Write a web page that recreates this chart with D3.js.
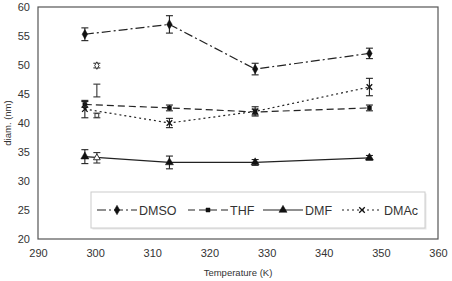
<!DOCTYPE html>
<html>
<head>
<meta charset="utf-8">
<script src="https://cdn.jsdelivr.net/npm/d3@7"></script>
<style>
  body { margin: 0; background: #fff; }
  text { font-family: "Liberation Sans", Arial, sans-serif; fill: #333; }
</style>
</head>
<body>
<svg id="chart" width="452" height="281"></svg>
<script>
// temperatures (K) for the main series
const temps = [298.2, 313, 328, 348];
const dmso = [55.3, 57.0, 49.3, 52.0];
const dmsoErr = [1.1, 1.5, 1.0, 0.9];
const thf = [43.2, 42.6, 41.9, 42.6];
const thfErr = [0.5, 0.5, 0.5, 0.5];
const dmf = [34.2, 33.2, 33.2, 34.0];
const dmfErr = [1.2, 1.1, 0.5, 0.4];
const dmac = [42.4, 40.0, 42.0, 46.2];
const dmacErr = [1.5, 0.8, 0.8, 1.5];

// extra open markers at 300 K
const extraT = 300.3;
const extraVals = [49.9, 45.6, 41.3, 34.0];
const extraErr = [0.4, 1.1, 0.4, 0.9];
const extraShapes = ["diamond", "none", "square", "triangle"];

const xTicks = [290, 300, 310, 320, 330, 340, 350, 360];
const yTicks = [20, 25, 30, 35, 40, 45, 50, 55, 60];

const svg = d3.select("#chart");
const margin = { top: 7, right: 14, bottom: 42, left: 38 };
const width = 452 - margin.left - margin.right;
const height = 281 - margin.top - margin.bottom;
const g = svg.append("g").attr("transform", `translate(${margin.left},${margin.top})`);

const x = d3.scaleLinear().domain([290, 360]).range([0, width]);
const y = d3.scaleLinear().domain([20, 60]).range([height, 0]);

const series = [
    { name: "DMSO", vals: dmso, err: dmsoErr, dash: "9,3,2,3", shape: "diamond" },
    { name: "THF", vals: thf, err: thfErr, dash: "7,4", shape: "square" },
    { name: "DMF", vals: dmf, err: dmfErr, dash: null, shape: "triangle" },
    { name: "DMAc", vals: dmac, err: dmacErr, dash: "2,3", shape: "cross" }
];

const symbols = {
    diamond: d3.symbol().type(d3.symbolDiamond).size(26),
    square: d3.symbol().type(d3.symbolSquare).size(16),
    triangle: d3.symbol().type(d3.symbolTriangle).size(28),
    cross: d3.symbol().type(d3.symbolX).size(22)
};
const openSymbols = {
    diamond: d3.symbol().type(d3.symbolDiamond).size(16),
    square: d3.symbol().type(d3.symbolSquare).size(14),
    triangle: d3.symbol().type(d3.symbolTriangle).size(20)
};

// frame
g.append("rect")
    .attr("width", width).attr("height", height)
    .attr("fill", "none").attr("stroke", "#555").attr("stroke-width", 1.2);

// axes, labels only
const xAxis = g.append("g")
    .attr("transform", `translate(0,${height})`)
    .call(d3.axisBottom(x).tickValues(xTicks).tickSize(0).tickPadding(10));
xAxis.select(".domain").remove();
xAxis.selectAll("text").attr("font-size", 11).attr("fill", "#333")
    .style("font-family", "Liberation Sans, Arial, sans-serif");

const yAxis = g.append("g")
    .call(d3.axisLeft(y).tickValues(yTicks).tickSize(0).tickPadding(8));
yAxis.select(".domain").remove();
yAxis.selectAll("text").attr("font-size", 11).attr("fill", "#333")
    .style("font-family", "Liberation Sans, Arial, sans-serif");

svg.append("text")
    .attr("x", margin.left + width / 2).attr("y", 276)
    .attr("text-anchor", "middle").attr("font-size", 9.5)
    .text("Temperature (K)");

svg.append("text")
    .attr("transform", `translate(11,${margin.top + height / 2}) rotate(-90)`)
    .attr("text-anchor", "middle").attr("font-size", 9.5)
    .text("diam. (nm)");

const line = d3.line().x(d => x(d[0])).y(d => y(d[1]));

function errorBar(sel, t, v, e) {
    const cx = x(t);
    sel.append("line").attr("x1", cx).attr("x2", cx).attr("y1", y(v - e)).attr("y2", y(v + e));
    sel.append("line").attr("x1", cx - 3.5).attr("x2", cx + 3.5).attr("y1", y(v - e)).attr("y2", y(v - e));
    sel.append("line").attr("x1", cx - 3.5).attr("x2", cx + 3.5).attr("y1", y(v + e)).attr("y2", y(v + e));
}

series.forEach(s => {
    const pts = temps.map((t, i) => [t, s.vals[i]]);
    g.append("path")
        .datum(pts)
        .attr("d", line)
        .attr("fill", "none")
        .attr("stroke", "#222")
        .attr("stroke-width", 1.2)
        .attr("stroke-dasharray", s.dash);

    const eb = g.append("g").attr("stroke", "#222").attr("stroke-width", 1.1);
    pts.forEach((p, i) => errorBar(eb, p[0], p[1], s.err[i]));

    g.selectAll(null)
        .data(pts)
        .enter()
        .append("path")
        .attr("transform", d => `translate(${x(d[0])},${y(d[1])})`)
        .attr("d", symbols[s.shape])
        .attr("fill", "#111")
        .attr("stroke", "#111")
        .attr("stroke-width", s.shape === "cross" ? 1.3 : 0.5);
});

// open markers at 300 K
const eb2 = g.append("g").attr("stroke", "#333").attr("stroke-width", 1.1);
extraVals.forEach((v, i) => {
    errorBar(eb2, extraT, v, extraErr[i]);
    if (extraShapes[i] !== "none") {
        g.append("path")
            .attr("transform", `translate(${x(extraT)},${y(v)})`)
            .attr("d", openSymbols[extraShapes[i]])
            .attr("fill", "#fff")
            .attr("stroke", "#333")
            .attr("stroke-width", 1);
    }
});

// legend
const legend = svg.append("g").attr("transform", "translate(91,192)");
legend.append("rect")
    .attr("x", 1.5).attr("y", 1.5).attr("width", 334).attr("height", 36)
    .attr("fill", "#e8e8e8");
legend.append("rect")
    .attr("width", 334).attr("height", 36)
    .attr("fill", "#fff").attr("stroke", "#ccc");

const legX = [6, 97, 172, 251];
series.forEach((s, i) => {
    const lg = legend.append("g").attr("transform", `translate(${legX[i]},18)`);
    lg.append("line")
        .attr("x1", 0).attr("x2", 40).attr("y1", 0).attr("y2", 0)
        .attr("stroke", "#222").attr("stroke-width", 1.2)
        .attr("stroke-dasharray", s.dash);
    lg.append("path")
        .attr("transform", "translate(20,0)")
        .attr("d", symbols[s.shape])
        .attr("fill", "#111").attr("stroke", "#111")
        .attr("stroke-width", s.shape === "cross" ? 1.3 : 0.5);
    lg.append("text")
        .attr("x", 42).attr("y", 4.5)
        .attr("font-size", 12.5)
        .text(s.name);
});
</script>
</body>
</html>
